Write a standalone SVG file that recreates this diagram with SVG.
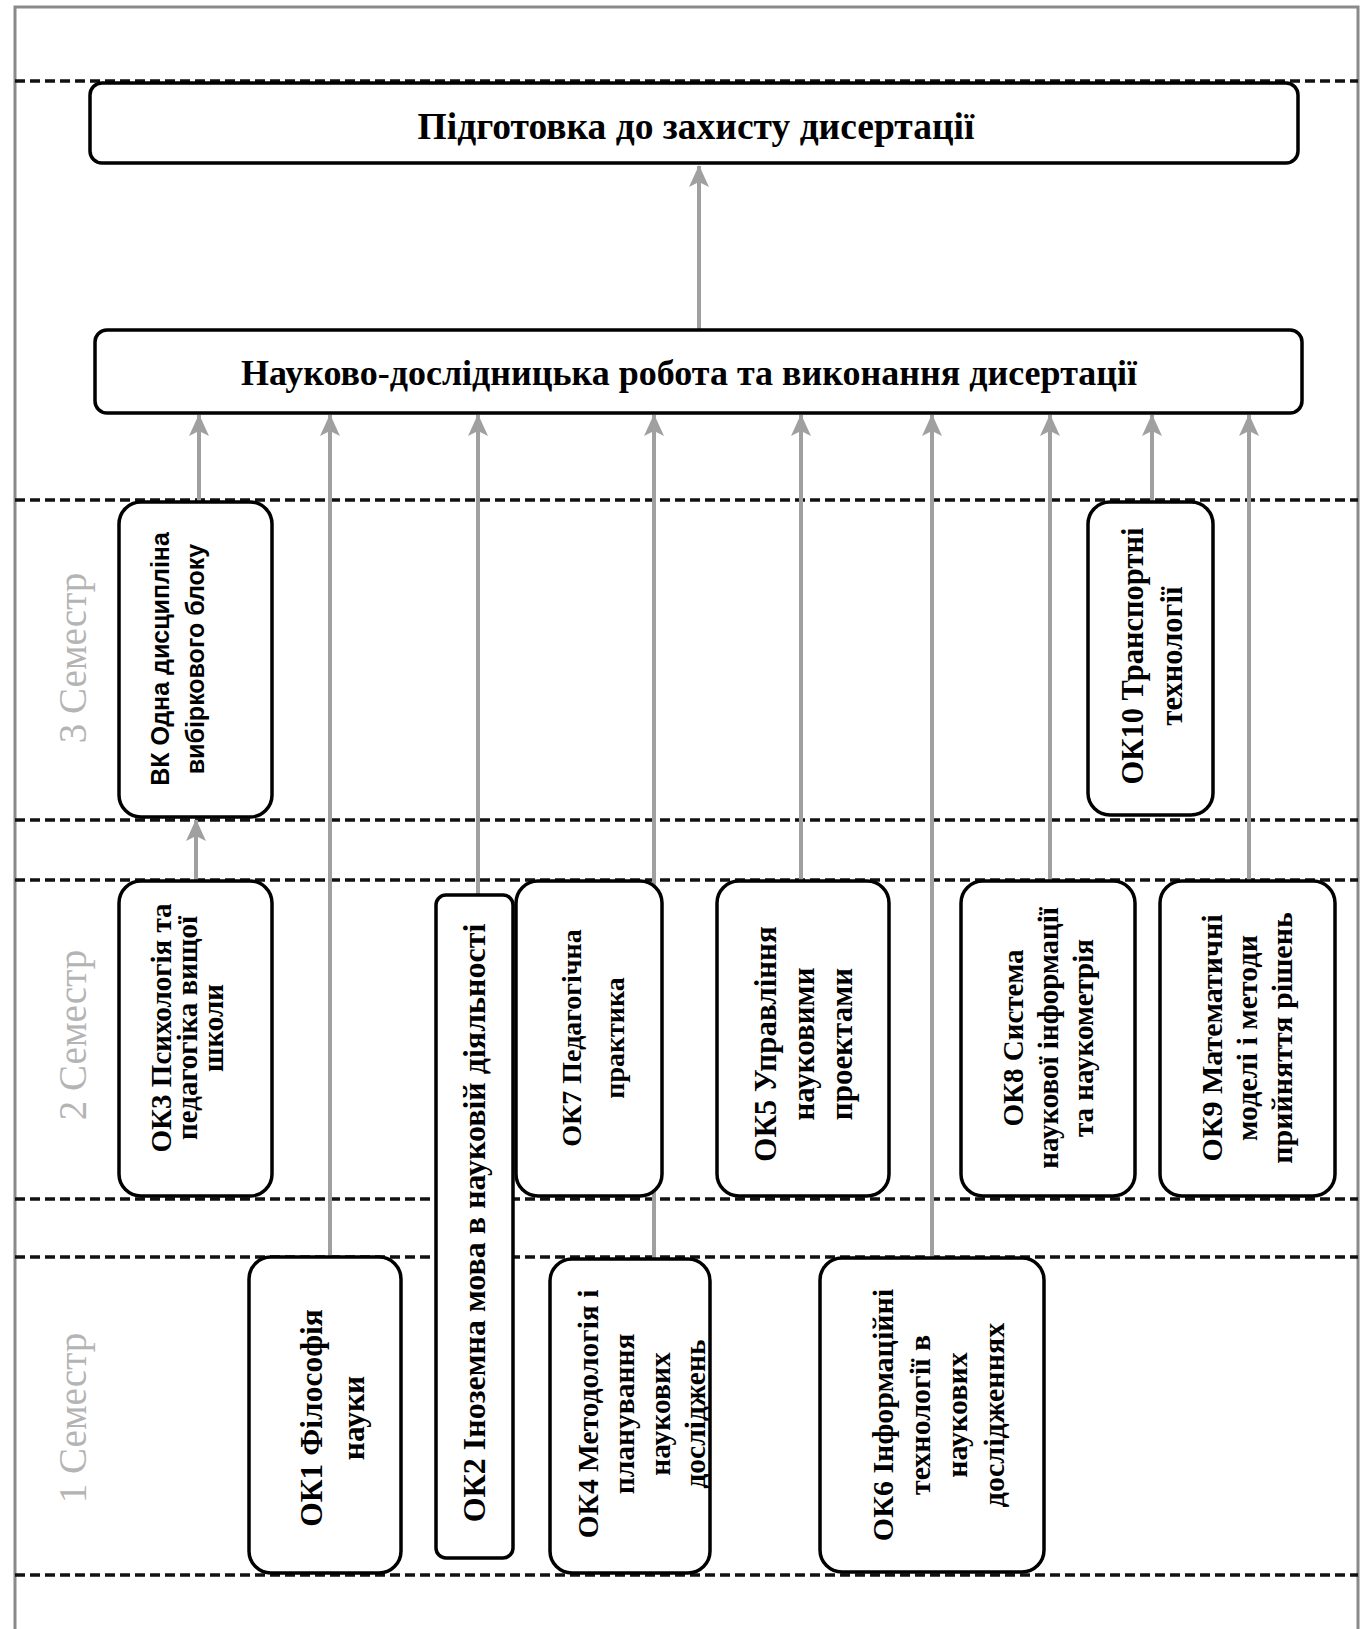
<svg xmlns="http://www.w3.org/2000/svg" width="1371" height="1629" viewBox="0 0 1371 1629">
<style>
.bg{fill:#fff}
.frame{fill:none;stroke:#8a8a8a;stroke-width:3}
.dash{stroke:#111;stroke-width:3.5;stroke-dasharray:10 5;fill:none}
.box{fill:#fff;stroke:#000;stroke-width:3.5}
.conn{stroke:#a0a0a0;stroke-width:4;fill:none}
.t{font-family:"Liberation Serif","Times New Roman",serif;font-weight:bold;fill:#000;text-anchor:middle;dominant-baseline:central}
.ts{font-family:"Liberation Sans",Arial,sans-serif;font-weight:bold;fill:#000;text-anchor:middle;dominant-baseline:central}
.sem{font-family:"Liberation Serif","Times New Roman",serif;fill:#b4b4b4;font-size:39px;text-anchor:middle;dominant-baseline:central}
</style>
<defs>
<marker id="ah" viewBox="0 0 22 20" refX="21" refY="10" markerWidth="22" markerHeight="20" markerUnits="userSpaceOnUse" orient="auto">
<path d="M0,0 L22,10 L0,20 L5,10 Z" fill="#a0a0a0"/>
</marker>
</defs>
<rect class="bg" x="0" y="0" width="1371" height="1629"/>
<rect class="frame" x="15" y="7" width="1343" height="1640"/>
<g id="grid">
<line class="dash" x1="15" y1="81" x2="1358" y2="81"/>
<line class="dash" x1="15" y1="500" x2="1358" y2="500"/>
<line class="dash" x1="15" y1="820" x2="1358" y2="820"/>
<line class="dash" x1="15" y1="880" x2="1358" y2="880"/>
<line class="dash" x1="15" y1="1199" x2="1358" y2="1199"/>
<line class="dash" x1="15" y1="1257" x2="1358" y2="1257"/>
<line class="dash" x1="15" y1="1575" x2="1358" y2="1575"/>
</g>
<g id="semesters">
<text class="sem" transform="translate(72,658) rotate(-90)">3 Семестр</text>
<text class="sem" transform="translate(72,1035) rotate(-90)">2 Семестр</text>
<text class="sem" transform="translate(72,1418) rotate(-90)">1 Семестр</text>
</g>
<g id="connectors">
<path class="conn" d="M699,330 V166" marker-end="url(#ah)"/>
<path class="conn" d="M199,502 V415" marker-end="url(#ah)"/>
<path class="conn" d="M330,1257 V415" marker-end="url(#ah)"/>
<path class="conn" d="M478,895 V415" marker-end="url(#ah)"/>
<path class="conn" d="M654,1259 V415" marker-end="url(#ah)"/>
<path class="conn" d="M801,881 V415" marker-end="url(#ah)"/>
<path class="conn" d="M932,1258 V415" marker-end="url(#ah)"/>
<path class="conn" d="M1050,881 V415" marker-end="url(#ah)"/>
<path class="conn" d="M1152,502 V415" marker-end="url(#ah)"/>
<path class="conn" d="M1249,881 V415" marker-end="url(#ah)"/>
<path class="conn" d="M196,881 V820" marker-end="url(#ah)"/>
</g>
<g id="n_defense">
<rect class="box" x="90" y="83" width="1208" height="80" rx="12"/>
<text class="t" x="696" y="126" font-size="37.5">Підготовка до захисту дисертації</text>
</g>
<g id="n_research">
<rect class="box" x="95" y="330" width="1207" height="83" rx="12"/>
<text class="t" x="689" y="373" font-size="36">Науково-дослідницька робота та виконання дисертації</text>
</g>
<g id="n_vk">
<rect class="box" x="119" y="502" width="153" height="315" rx="22"/>
<text class="ts" font-size="25" transform="translate(160,659) rotate(-90)">ВК Одна дисципліна</text>
<text class="ts" font-size="25" transform="translate(195,659) rotate(-90)">вибіркового блоку</text>
</g>
<g id="n_ok10">
<rect class="box" x="1088" y="502" width="125" height="313" rx="22"/>
<text class="t" font-size="30.5" transform="translate(1133,656) rotate(-90)">ОК10 Транспортні</text>
<text class="t" font-size="30.5" transform="translate(1172,656) rotate(-90)">технології</text>
</g>
<g id="n_ok3">
<rect class="box" x="119" y="881" width="153" height="315" rx="22"/>
<text class="t" font-size="29" transform="translate(161,1028) rotate(-90)">ОК3 Психологія та</text>
<text class="t" font-size="29" transform="translate(187,1028) rotate(-90)">педагогіка вищої</text>
<text class="t" font-size="29" transform="translate(213,1028) rotate(-90)">школи</text>
</g>
<g id="n_ok2">
<rect class="box" x="436" y="895" width="77" height="663" rx="10"/>
<text class="t" font-size="32" transform="translate(474,1223) rotate(-90)">ОК2 Іноземна мова в науковій діяльності</text>
</g>
<g id="n_ok7">
<rect class="box" x="516" y="881" width="146" height="315" rx="22"/>
<text class="t" font-size="28" transform="translate(571,1038) rotate(-90)">ОК7 Педагогічна</text>
<text class="t" font-size="28" transform="translate(614,1038) rotate(-90)">практика</text>
</g>
<g id="n_ok5">
<rect class="box" x="717" y="881" width="172" height="315" rx="22"/>
<text class="t" font-size="31" transform="translate(765,1044) rotate(-90)">ОК5 Управління</text>
<text class="t" font-size="31" transform="translate(803,1044) rotate(-90)">науковими</text>
<text class="t" font-size="31" transform="translate(841,1044) rotate(-90)">проектами</text>
</g>
<g id="n_ok8">
<rect class="box" x="961" y="881" width="174" height="315" rx="22"/>
<text class="t" font-size="29" transform="translate(1013,1038) rotate(-90)">ОК8 Система</text>
<text class="t" font-size="29" transform="translate(1048,1038) rotate(-90)">наукової інформації</text>
<text class="t" font-size="29" transform="translate(1083,1038) rotate(-90)">та наукометрія</text>
</g>
<g id="n_ok9">
<rect class="box" x="1160" y="881" width="175" height="315" rx="22"/>
<text class="t" font-size="30" transform="translate(1211,1038) rotate(-90)">ОК9 Математичні</text>
<text class="t" font-size="30" transform="translate(1246,1038) rotate(-90)">моделі і методи</text>
<text class="t" font-size="30" transform="translate(1281,1038) rotate(-90)">прийняття рішень</text>
</g>
<g id="n_ok1">
<rect class="box" x="249" y="1257" width="152" height="316" rx="22"/>
<text class="t" font-size="31.5" transform="translate(311,1418) rotate(-90)">ОК1 Філософія</text>
<text class="t" font-size="31.5" transform="translate(353,1418) rotate(-90)">науки</text>
</g>
<g id="n_ok4">
<rect class="box" x="550" y="1259" width="160" height="314" rx="22"/>
<text class="t" font-size="29.5" transform="translate(588,1414) rotate(-90)">ОК4 Методологія і</text>
<text class="t" font-size="29.5" transform="translate(624,1414) rotate(-90)">планування</text>
<text class="t" font-size="29.5" transform="translate(660,1414) rotate(-90)">наукових</text>
<text class="t" font-size="29.5" transform="translate(695,1414) rotate(-90)">досліджень</text>
</g>
<g id="n_ok6">
<rect class="box" x="820" y="1258" width="224" height="314" rx="22"/>
<text class="t" font-size="30" transform="translate(882,1415) rotate(-90)">ОК6 Інформаційні</text>
<text class="t" font-size="30" transform="translate(919,1415) rotate(-90)">технології в</text>
<text class="t" font-size="30" transform="translate(956,1415) rotate(-90)">наукових</text>
<text class="t" font-size="30" transform="translate(993,1415) rotate(-90)">дослідженнях</text>
</g>
</svg>
